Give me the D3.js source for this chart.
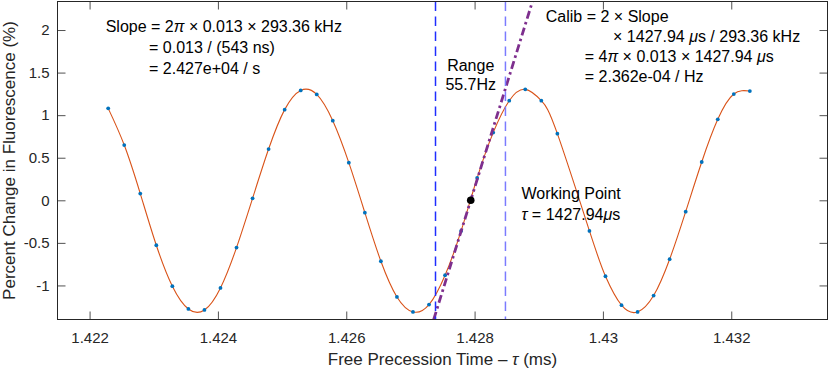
<!DOCTYPE html>
<html>
<head>
<meta charset="utf-8">
<script src="https://cdn.jsdelivr.net/npm/d3@7"></script>
<style>
body { margin: 0; background: #fff; }
svg { font-family: "Liberation Sans", Arial, Helvetica, sans-serif; }
.tick text { font-size: 15px; fill: #262626; }
.note { font-size: 16px; fill: #000; }
.axisLb { font-size: 17px; fill: #262626; text-anchor: middle; }
</style>
</head>
<body>
<div id="main"></div>
<script>
// free precession time of each shot (ms)
var tau = [1.42229, 1.42254, 1.42279, 1.42304, 1.42329, 1.42354, 1.42379, 1.42404,
           1.42429, 1.42454, 1.42479, 1.42504, 1.42529, 1.42554, 1.42579, 1.42604,
           1.42629, 1.42654, 1.42679, 1.42704, 1.42729, 1.42754, 1.42779, 1.42804,
           1.42829, 1.42854, 1.42879, 1.42904, 1.42929, 1.42954, 1.42979, 1.43004,
           1.43029, 1.43054, 1.43079, 1.43104, 1.43129, 1.43154, 1.43179, 1.43204,
           1.43229];
// measured change in fluorescence (%), one shot missing
var fluor = [1.080, 0.649, 0.079, -0.528, -1.009, -1.276, -1.288, -1.029,
             -0.555, 0.023, 0.602, 1.065, 1.291, 1.244, 0.935, 0.442,
             -0.145, -0.716, -1.135, -1.311, -1.225, -0.880, -0.360, 0.262,
             0.795, 1.170, 1.303, 1.170, 0.783, null, -0.360, -0.892,
             -1.232, -1.311, -1.119, -0.692, -0.133, 0.450, 0.951, 1.248,
             1.283];
var xTicks = [1.422, 1.424, 1.426, 1.428, 1.43, 1.432];
var yTicks = [-1, -0.5, 0, 0.5, 1, 1.5, 2];
var workPoint = {t: 1.42794, v: 0};
var rangeBounds = [1.427391, 1.428481];
var slopeEnds = [{t: 1.427363, v: -1.4}, {t: 1.428904, v: 2.34}];

// notes: anchor in data units, "_" toggles italic
var notes = [
    {t: 1.422251, v: 1.974, text: "Slope = 2_π_ × 0.013 × 293.36 kHz"},
    {t: 1.422926, v: 1.728, text: "= 0.013 / (543 ns)"},
    {t: 1.422926, v: 1.486, text: "= 2.427e+04 / s"},
    {t: 1.429110, v: 2.099, text: "Calib = 2 × Slope"},
    {t: 1.430158, v: 1.860, text: "× 1427.94 _μ_s / 293.36 kHz"},
    {t: 1.429717, v: 1.622, text: "= 4_π_ × 0.013 × 1427.94 _μ_s"},
    {t: 1.429717, v: 1.385, text: "= 2.362e-04 / Hz"},
    {t: 1.42873, v: 0.015, text: "Working Point"},
    {t: 1.42873, v: -0.226, text: "_τ_ = 1427.94_μ_s"},
    {t: 1.42794, v: 1.523, text: "Range", mid: true},
    {t: 1.42794, v: 1.296, text: "55.7Hz", mid: true}
];

var ctx = {w: 830, h: 370, left: 57.5, right: 827.5, top: 1.5, bottom: 319.5};

var xScale = d3.scaleLinear().domain([1.4215, 1.4335]).range([ctx.left, ctx.right]);
var yScale = d3.scaleLinear().domain([-1.4, 2.335]).range([ctx.bottom, ctx.top]);

var svg = d3.select("#main").append("svg")
    .attr("width", ctx.w).attr("height", ctx.h);

svg.append("clipPath").attr("id", "plotClip")
   .append("rect")
   .attr("x", ctx.left).attr("y", ctx.top)
   .attr("width", ctx.right - ctx.left).attr("height", ctx.bottom - ctx.top);

var plotG = svg.append("g").attr("clip-path", "url(#plotClip)");

var pts = tau.map(function(t, i){ return {t: t, v: fluor[i]}; })
             .filter(function(d){ return d.v !== null; });

// fitted oscillation
plotG.append("path")
     .datum(pts)
     .attr("fill", "none")
     .attr("stroke", "#D95319")
     .attr("stroke-width", 1.1)
     .attr("d", d3.line()
                  .x(function(d){ return xScale(d.t); })
                  .y(function(d){ return yScale(d.v); })
                  .curve(d3.curveNatural));

// measured points
plotG.selectAll("circle.pt")
     .data(pts)
     .enter()
     .append("circle")
     .attr("class", "pt")
     .attr("cx", function(d){ return xScale(d.t); })
     .attr("cy", function(d){ return yScale(d.v); })
     .attr("r", 1.9)
     .attr("fill", "#0072BD");

// slope at working point
plotG.append("line")
     .attr("x1", xScale(slopeEnds[0].t)).attr("y1", yScale(slopeEnds[0].v))
     .attr("x2", xScale(slopeEnds[1].t)).attr("y2", yScale(slopeEnds[1].v))
     .attr("stroke", "#7E2F8E")
     .attr("stroke-width", 2.8)
     .attr("stroke-dasharray", "8,3.5,2.5,3.5");

// range bounds
plotG.selectAll("line.range")
     .data(rangeBounds)
     .enter()
     .append("line")
     .attr("class", "range")
     .attr("x1", function(d){ return xScale(d); })
     .attr("x2", function(d){ return xScale(d); })
     .attr("y1", ctx.top)
     .attr("y2", ctx.bottom)
     .attr("stroke", function(d, i){ return i == 0 ? "#1f2dff" : "#7b7bff"; })
     .attr("stroke-width", 1.5)
     .attr("stroke-dasharray", "9.5,5.5");

// working point
plotG.append("circle")
     .attr("cx", xScale(workPoint.t))
     .attr("cy", yScale(workPoint.v))
     .attr("r", 3.8)
     .attr("fill", "#000");

// axes, ticks pointing inward on all four sides
var axG = svg.append("g");
axG.append("g")
   .attr("transform", "translate(0," + ctx.bottom + ")")
   .call(d3.axisBottom(xScale).tickValues(xTicks).tickFormat(d3.format("")).tickSizeInner(-8).tickSizeOuter(0).tickPadding(13));
axG.append("g")
   .attr("transform", "translate(0," + ctx.top + ")")
   .call(d3.axisTop(xScale).tickValues(xTicks).tickFormat("").tickSizeInner(-8).tickSizeOuter(0));
axG.append("g")
   .attr("transform", "translate(" + ctx.left + ",0)")
   .call(d3.axisLeft(yScale).tickValues(yTicks).tickFormat(function(d){ return String(d); }).tickSizeInner(-8).tickSizeOuter(0).tickPadding(8));
axG.append("g")
   .attr("transform", "translate(" + ctx.right + ",0)")
   .call(d3.axisRight(yScale).tickValues(yTicks).tickFormat("").tickSizeInner(-8).tickSizeOuter(0));
axG.selectAll(".domain").remove();
axG.selectAll(".tick line").attr("stroke", "#262626").attr("stroke-width", 0.8);
axG.append("rect")
   .attr("x", ctx.left).attr("y", ctx.top)
   .attr("width", ctx.right - ctx.left).attr("height", ctx.bottom - ctx.top)
   .attr("fill", "none").attr("stroke", "#262626").attr("stroke-width", 1);

// annotation text
var addRich = function(sel, str){
    str.split("_").forEach(function(part, i){
        if (part === "") return;
        sel.append("tspan")
           .style("font-style", i % 2 ? "italic" : "normal")
           .text(part);
    });
};
notes.forEach(function(n){
    var tx = svg.append("text")
        .attr("class", "note")
        .attr("x", xScale(n.t))
        .attr("y", yScale(n.v))
        .attr("text-anchor", n.mid ? "middle" : "start");
    addRich(tx, n.text);
});

// axis labels
var xl = svg.append("text")
    .attr("class", "axisLb")
    .attr("x", (ctx.left + ctx.right) / 2)
    .attr("y", 365);
addRich(xl, "Free Precession Time – _τ_ (ms)");
svg.append("text")
   .attr("class", "axisLb")
   .attr("transform", "translate(14.5," + (ctx.top + ctx.bottom) / 2 + ") rotate(-90)")
   .text("Percent Change in Fluorescence (%)");
</script>
</body>
</html>
